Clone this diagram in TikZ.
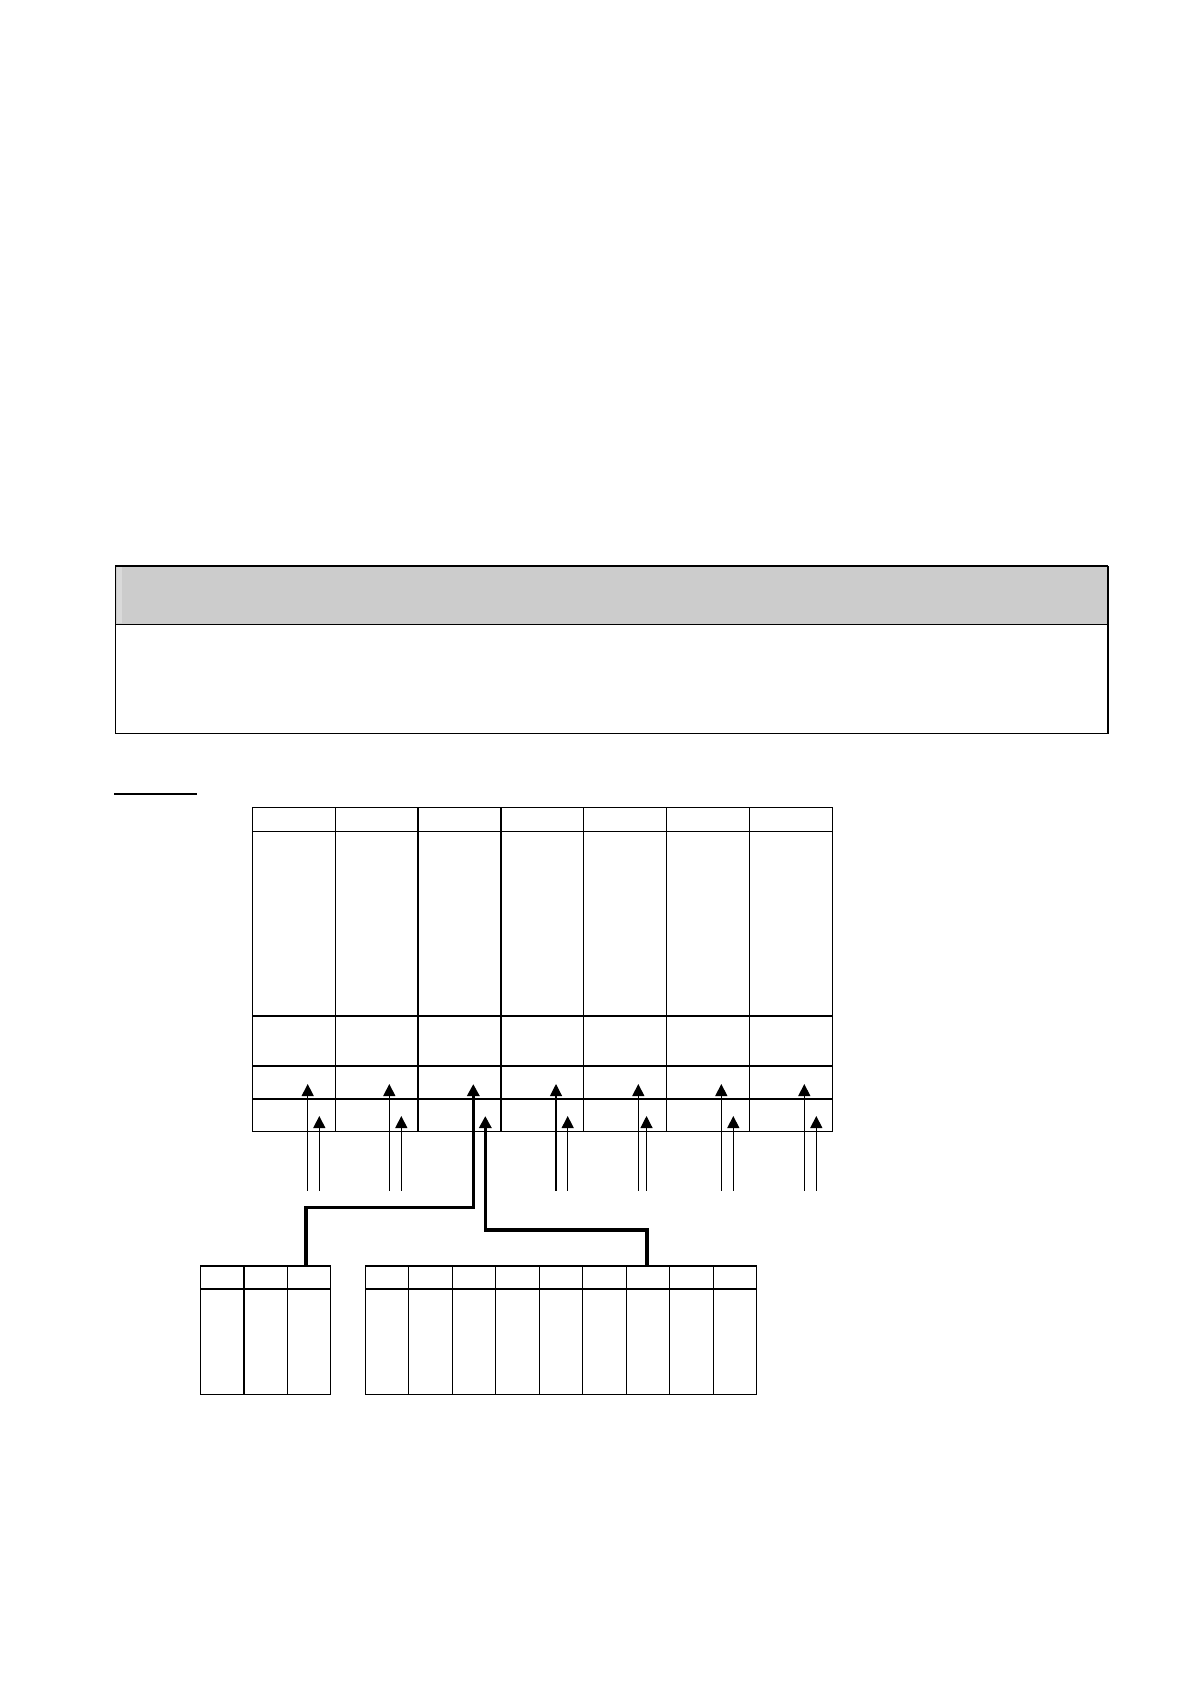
\documentclass[tikz,border=0pt]{standalone}
\usetikzlibrary{arrows.meta}
\definecolor{hdrgray}{HTML}{CCCCCC}
\definecolor{hdrlight}{HTML}{DADADA}
\begin{document}
\begin{tikzpicture}[x=0.5pt,y=-0.5pt,
  gridline/.style={line width=0.65pt,black},
  boxpart/.style={draw=black,line width=0.65pt,anchor=north west,inner sep=0pt,outer sep=0pt,minimum width=496.2pt},
  tiparrow/.style={-{Triangle[width=6pt,length=6pt]}},
  thinarrow/.style={tiparrow,line width=0.55pt},
  thicklink/.style={tiparrow,line width=1.6pt,line join=miter},
]
\useasboundingbox (0,0) rectangle (1190,1684);
\fill[white] (0,0) rectangle (1190,1684);

% ---- framed box with grey header ----
\node[boxpart,fill=hdrgray,minimum height=29.15pt] (hdr) at (115.3,566) {};
\node[boxpart,fill=white,minimum height=54.7pt] (bdy) at (115.3,624.3) {};
\fill[hdrlight] (117,567) rectangle (122,623);
\draw[line width=1.1pt] (hdr.north east) -- (bdy.south east);

% ---- underline ----
\coordinate (ulA) at (114,793.7);
\coordinate (ulB) at (196.7,793.7);
\draw[line width=1.1pt] (ulA) -- (ulB);

% ---- main table (7 columns) ----
\draw[gridline] (252.3,807.5) rectangle (832.3,1131.7);
\foreach \y in {831.3,1016,1066,1099}
  \draw[gridline] (252.3,\y) -- (832.3,\y);
\foreach \i in {1,...,6}
  \draw[gridline] ({252.3+\i*82.857},807.5) -- ({252.3+\i*82.857},1131.7);

% ---- left small table (3 columns) ----
\draw[gridline] (200.7,1266) rectangle (330.7,1394.3);
\draw[gridline] (200.7,1289) -- (330.7,1289);
\foreach \x in {244,287.3}
  \draw[gridline] (\x,1266) -- (\x,1394.3);

% ---- right small table (9 columns) ----
\draw[gridline] (365.3,1266) rectangle (756.6,1394.3);
\draw[gridline] (365.3,1289) -- (756.6,1289);
\foreach \i in {1,...,8}
  \draw[gridline] ({365.3+\i*43.48},1266) -- ({365.3+\i*43.48},1394.3);

% ---- thin input arrows ----
\foreach \n/\xa/\xb in {1/307.7/319.3, 2/389.3/401.3, 4/556/567.7, 5/638.3/646.5, 6/721.3/733.3, 7/804.3/816.3}{
  \coordinate (s\n a) at (\xa,1190.5);
  \coordinate (t\n a) at (\xa,1084);
  \coordinate (s\n b) at (\xb,1190.5);
  \coordinate (t\n b) at (\xb,1116);
  \draw[thinarrow] (s\n a) -- (t\n a);
  \draw[thinarrow] (s\n b) -- (t\n b);
}

% ---- thick links from the small tables ----
\coordinate (t3a) at (473.3,1084);
\coordinate (t3b) at (485.3,1116);
\coordinate (lt3) at (306,1266.5);
\coordinate (bend1) at (306,1207.3);
\coordinate (rt7) at (647,1266.5);
\coordinate (bend2) at (647,1230);
\draw[thicklink] (lt3) -- (bend1) -| (t3a);
\draw[thicklink] (rt7) -- (bend2) -| (t3b);
\end{tikzpicture}
\end{document}
